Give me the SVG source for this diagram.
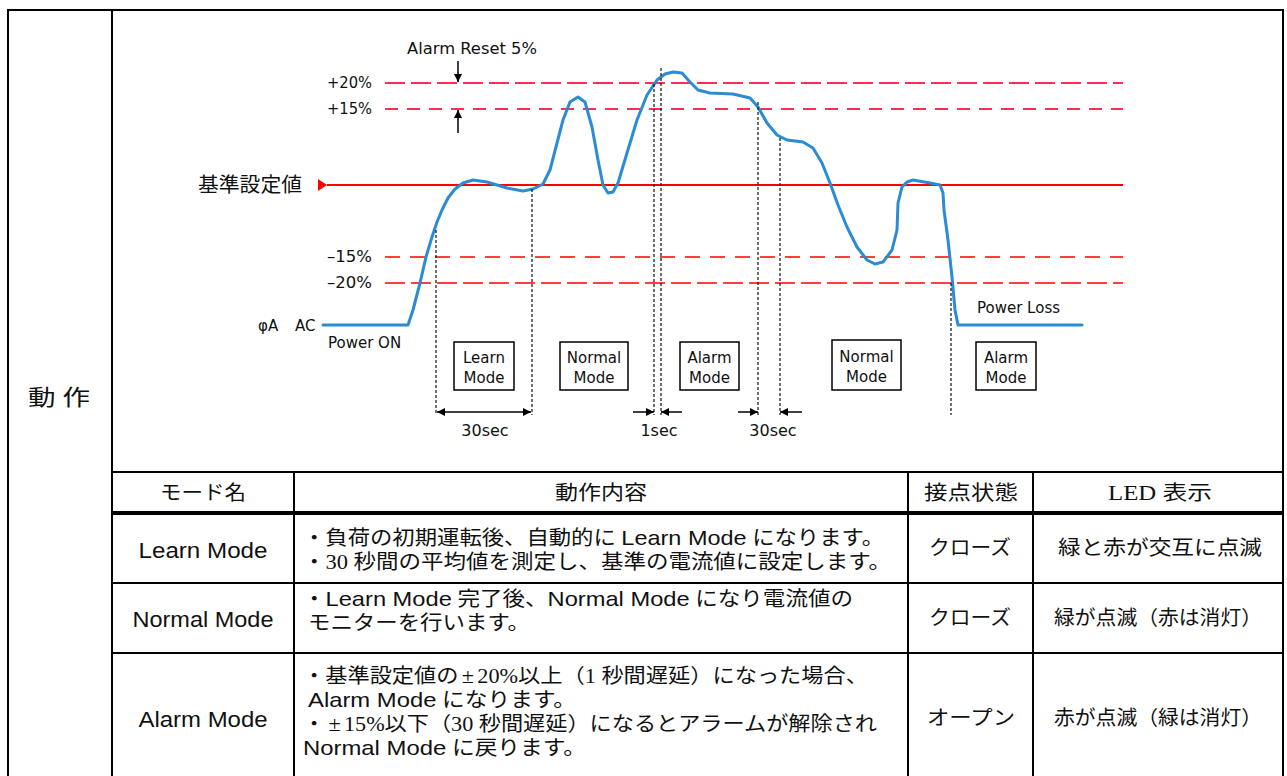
<svg xmlns="http://www.w3.org/2000/svg" width="1287" height="776" viewBox="0 0 1287 776">
<style>
.frame{stroke:#000;stroke-width:2;fill:none}
.thick{stroke:#000;stroke-width:4;fill:none}
.ch{font-family:"DejaVu Sans","Liberation Sans",sans-serif;font-size:15px;fill:#111}
.jp{font-family:"Liberation Serif","Noto Sans CJK JP",serif;font-size:20px;fill:#111}
.en{font-family:"Liberation Sans","Noto Sans CJK JP",sans-serif;font-size:21px}
.cj{font-family:"Noto Sans CJK JP",sans-serif}
.pm{letter-spacing:3px}
.lbl{font-family:"Liberation Sans","Noto Sans CJK JP",sans-serif;font-size:22px;fill:#111}
.lim20{stroke:#ff2d55;stroke-width:2;stroke-dasharray:20 6;fill:none}
.lim15{stroke:#ff2d55;stroke-width:2;stroke-dasharray:13 9;fill:none}
.lim15n{stroke:#ff0000;stroke-width:1.6;stroke-dasharray:15 10;fill:none}
.lim20n{stroke:#ff0000;stroke-width:1.6;stroke-dasharray:20 6;fill:none}
.ref{stroke:#ff0000;stroke-width:2;fill:none}
.vd{stroke:#111;stroke-width:1.2;stroke-dasharray:3 2;fill:none}
.dim{stroke:#000;stroke-width:1.5;fill:none}
.box{fill:#fff;stroke:#000;stroke-width:1.5}
.curve{fill:none;stroke:#2b8bd3;stroke-width:3;stroke-linejoin:round;stroke-linecap:round}
</style>
<defs>
<marker id="ah" viewBox="0 0 10 10" refX="10" refY="5" markerWidth="10" markerHeight="8" markerUnits="userSpaceOnUse" orient="auto-start-reverse">
<path d="M0,0 L10,5 L0,10 z" fill="#000"/>
</marker>
</defs>

<g id="frame">
<line class="frame" x1="7" y1="10" x2="1284" y2="10"/>
<line class="frame" x1="8" y1="10" x2="8" y2="776"/>
<line class="frame" x1="112" y1="10" x2="112" y2="776"/>
<line class="frame" x1="1283" y1="10" x2="1283" y2="776"/>
<line class="frame" x1="112" y1="472" x2="1283" y2="472"/>
<line class="thick" x1="112" y1="513" x2="1283" y2="513"/>
<line class="frame" x1="112" y1="583" x2="1283" y2="583"/>
<line class="frame" x1="112" y1="653" x2="1283" y2="653"/>
<line class="frame" x1="294" y1="472" x2="294" y2="776"/>
<line class="frame" x1="908" y1="472" x2="908" y2="776"/>
<line class="frame" x1="1033" y1="472" x2="1033" y2="776"/>
</g>

<g id="section-label">
<text class="jp" x="59" y="405" text-anchor="middle" style="font-size:22px" textLength="62" lengthAdjust="spacingAndGlyphs">動 作</text>
</g>

<g id="chart">
<g id="levels">
<line class="lim20" x1="385" y1="83" x2="1123" y2="83"/>
<line class="lim15" x1="385" y1="109" x2="1123" y2="109"/>
<line class="ref" x1="327" y1="185" x2="1123" y2="185"/>
<polygon points="318,179 327,185 318,191" fill="#ff0000"/>
<line class="lim15n" x1="385" y1="257" x2="1123" y2="257"/>
<line class="lim20n" x1="385" y1="283" x2="1123" y2="283"/>
<text class="ch" x="327" y="88" textLength="45" lengthAdjust="spacingAndGlyphs">+20%</text>
<text class="ch" x="327" y="114" textLength="45" lengthAdjust="spacingAndGlyphs">+15%</text>
<text class="ch" x="327" y="262" textLength="45" lengthAdjust="spacingAndGlyphs">–15%</text>
<text class="ch" x="327" y="288" textLength="45" lengthAdjust="spacingAndGlyphs">–20%</text>
<text class="cj" x="198" y="192" style="font-size:20px;fill:#111" textLength="104" lengthAdjust="spacingAndGlyphs">基準設定値</text>
<text class="ch" x="407" y="54" textLength="130" lengthAdjust="spacingAndGlyphs">Alarm Reset 5%</text>
<text class="ch" x="258" y="331"><tspan>φA</tspan> <tspan x="295">AC</tspan></text>
<text class="ch" x="328" y="348">Power ON</text>
<text class="ch" x="977" y="313">Power Loss</text>
</g>

<g id="signal">
<path class="curve" d="M323,325 L408,325 L413,310 L420,283 L426,257 L432,237 L437,222 L442,210 L448,198 L455,189 L463,183 L473,180 L487,182 L507,188 L523,191 L533,189 L543,184 L550,170 L557,143 L563,120 L570,102 L578,97 L585,102 L592,127 L598,160 L603,185 L608,193 L613,192 L618,183 L627,153 L637,120 L647,95 L657,80 L665,74 L673,72 L682,73 L690,82 L698,90 L710,93 L733,94 L750,98 L758,107 L767,123 L777,135 L787,140 L803,142 L813,148 L822,163 L830,183 L838,205 L847,227 L857,247 L867,260 L875,264 L883,262 L892,250 L897,230 L898,203 L902,187 L907,182 L913,180 L930,183 L940,185 L943,193 L944,210 L948,240 L952,277 L955,310 L958,325 L1082,325"/>
</g>

<g id="box-learn">
<rect class="box" x="454" y="342" width="60" height="48"/>
<text class="ch" x="484" y="363" text-anchor="middle">Learn</text>
<text class="ch" x="484" y="383" text-anchor="middle">Mode</text>
</g>
<g id="box-normal-1">
<rect class="box" x="560" y="342" width="68" height="48"/>
<text class="ch" x="594" y="363" text-anchor="middle">Normal</text>
<text class="ch" x="594" y="383" text-anchor="middle">Mode</text>
</g>
<g id="box-alarm-1">
<rect class="box" x="680" y="342" width="59" height="48"/>
<text class="ch" x="709.5" y="363" text-anchor="middle">Alarm</text>
<text class="ch" x="709.5" y="383" text-anchor="middle">Mode</text>
</g>
<g id="box-normal-2">
<rect class="box" x="832" y="340" width="69" height="50"/>
<text class="ch" x="866.5" y="362" text-anchor="middle">Normal</text>
<text class="ch" x="866.5" y="382" text-anchor="middle">Mode</text>
</g>
<g id="box-alarm-2">
<rect class="box" x="976" y="342" width="60" height="48"/>
<text class="ch" x="1006" y="363" text-anchor="middle">Alarm</text>
<text class="ch" x="1006" y="383" text-anchor="middle">Mode</text>
</g>

<g id="connectors">
<line class="vd" x1="436" y1="230" x2="436" y2="415"/>
<line class="vd" x1="532" y1="189" x2="532" y2="415"/>
<line class="vd" x1="654" y1="84" x2="654" y2="415"/>
<line class="vd" x1="661" y1="68" x2="661" y2="415"/>
<line class="vd" x1="758" y1="102" x2="758" y2="415"/>
<line class="vd" x1="780" y1="138" x2="780" y2="415"/>
<line class="vd" x1="951" y1="283" x2="951" y2="415"/>
<line class="dim" x1="437" y1="412" x2="531" y2="412" marker-start="url(#ah)" marker-end="url(#ah)"/>
<line class="dim" x1="633" y1="412" x2="654" y2="412" marker-end="url(#ah)"/>
<line class="dim" x1="682" y1="412" x2="661" y2="412" marker-end="url(#ah)"/>
<line class="dim" x1="738" y1="412" x2="758" y2="412" marker-end="url(#ah)"/>
<line class="dim" x1="802" y1="412" x2="780" y2="412" marker-end="url(#ah)"/>
<line class="dim" x1="458" y1="61" x2="458" y2="82" marker-end="url(#ah)"/>
<line class="dim" x1="458" y1="133" x2="458" y2="110" marker-end="url(#ah)"/>
</g>

<g id="time-labels">
<text class="ch" x="485" y="436" text-anchor="middle" style="font-size:16px">30sec</text>
<text class="ch" x="659" y="436" text-anchor="middle" style="font-size:16px">1sec</text>
<text class="ch" x="773" y="436" text-anchor="middle" style="font-size:16px">30sec</text>
</g>
</g>

<g id="table">
<g id="header">
<text class="jp" x="203" y="500" text-anchor="middle" textLength="86" lengthAdjust="spacingAndGlyphs">モード名</text>
<text class="jp" x="601" y="500" text-anchor="middle" textLength="92" lengthAdjust="spacingAndGlyphs">動作内容</text>
<text class="jp" x="971" y="500" text-anchor="middle" textLength="94" lengthAdjust="spacingAndGlyphs">接点状態</text>
<text class="jp" x="1160" y="500" text-anchor="middle" textLength="104" lengthAdjust="spacingAndGlyphs">LED 表示</text>
</g>
<g id="row-learn">
<text class="lbl" x="203" y="558" text-anchor="middle" textLength="129" lengthAdjust="spacingAndGlyphs">Learn Mode</text>
<text class="jp" x="303" y="545" textLength="581" lengthAdjust="spacingAndGlyphs">・負荷の初期運転後、自動的に <tspan class="en">Learn Mode</tspan> になります。</text>
<text class="jp" x="303" y="569" textLength="588" lengthAdjust="spacingAndGlyphs">・30 秒間の平均値を測定し、基準の電流値に設定します。</text>
<text class="jp" x="970" y="555" text-anchor="middle" textLength="82" lengthAdjust="spacingAndGlyphs">クローズ</text>
<text class="jp" x="1160" y="555" text-anchor="middle" textLength="204" lengthAdjust="spacingAndGlyphs">緑と赤が交互に点滅</text>
</g>
<g id="row-normal">
<text class="lbl" x="203" y="627" text-anchor="middle" textLength="141" lengthAdjust="spacingAndGlyphs">Normal Mode</text>
<text class="jp" x="303" y="606" textLength="550" lengthAdjust="spacingAndGlyphs">・<tspan class="en">Learn Mode</tspan> 完了後、<tspan class="en">Normal Mode</tspan> になり電流値の</text>
<text class="jp" x="308" y="630" textLength="222" lengthAdjust="spacingAndGlyphs">モニターを行います。</text>
<text class="jp" x="970" y="625" text-anchor="middle" textLength="82" lengthAdjust="spacingAndGlyphs">クローズ</text>
<text class="jp" x="1158" y="625" text-anchor="middle" textLength="208" lengthAdjust="spacingAndGlyphs">緑が点滅（赤は消灯）</text>
</g>
<g id="row-alarm">
<text class="lbl" x="203" y="727" text-anchor="middle" textLength="129" lengthAdjust="spacingAndGlyphs">Alarm Mode</text>
<text class="jp" x="303" y="683" textLength="565" lengthAdjust="spacingAndGlyphs">・基準設定値の<tspan class="pm" dx="3">±</tspan>20%以上（1 秒間遅延）になった場合、</text>
<text class="jp" x="308" y="707" textLength="268" lengthAdjust="spacingAndGlyphs"><tspan class="en">Alarm Mode</tspan> になります。</text>
<text class="jp" x="303" y="731" textLength="574" lengthAdjust="spacingAndGlyphs">・<tspan class="pm" dx="3">±</tspan>15%以下（30 秒間遅延）になるとアラームが解除され</text>
<text class="jp" x="303" y="755" textLength="283" lengthAdjust="spacingAndGlyphs"><tspan class="en">Normal Mode</tspan> に戻ります。</text>
<text class="jp" x="971" y="725" text-anchor="middle" textLength="88" lengthAdjust="spacingAndGlyphs">オープン</text>
<text class="jp" x="1158" y="725" text-anchor="middle" textLength="208" lengthAdjust="spacingAndGlyphs">赤が点滅（緑は消灯）</text>
</g>
</g>
</svg>
